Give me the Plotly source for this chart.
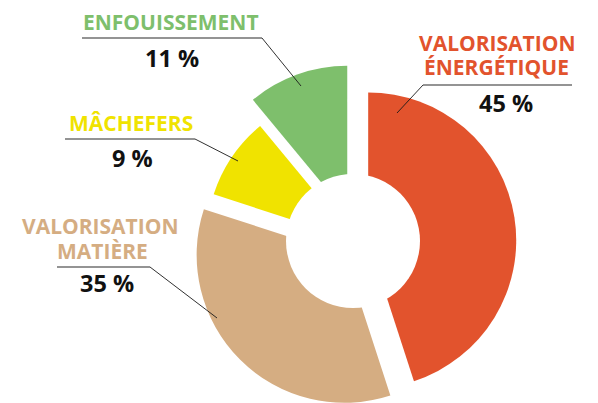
import math
import plotly.graph_objects as go

W, H = 598, 403

# ---------------- data ----------------
categories = ["VALORISATION ÉNERGÉTIQUE", "VALORISATION MATIÈRE", "MÂCHEFERS", "ENFOUISSEMENT"]
label_lines = [["VALORISATION", "ÉNERGÉTIQUE"], ["VALORISATION", "MATIÈRE"], ["MÂCHEFERS"], ["ENFOUISSEMENT"]]
shares = [45, 35, 9, 11]

# ---------------- style ----------------
colors = ["#E2532D", "#D5AD82", "#F0E300", "#7EBF6C"]
pulls = [0.074, 0.122, 0.024, 0.203]          # fraction of radius
CX, CY, R = 357.4, 242.1, 148.0                # pie centre (px from top-left), radius
HOLE_CX, HOLE_CY, HOLE_R = 353, 241, 67
FONT = "Open Sans"
LABEL_SIZE = 21
PCT_SIZE = 23.5

# label placement (px): centres of text lines, pct centre, underline (x0, x1, y), leader (start x, end point)
label_layout = [
    dict(lines=[(497, 43), (496.5, 67)], pct=(505.5, 102.5), rule=(423, 572, 85), lead=(423, 397, 113)),
    dict(lines=[(100, 225.5), (102, 251)], pct=(106.5, 283.5), rule=(57, 150, 267), lead=(150, 217, 318)),
    dict(lines=[(131, 122.5)], pct=(132, 158), rule=(65, 195, 139), lead=(195, 238, 161)),
    dict(lines=[(171, 21.5)], pct=(172.5, 58.5), rule=(82, 262, 38), lead=(262, 301, 86)),
]


def px(x):
    return x / W


def py(y):
    return (H - y) / H


fig = go.Figure()
total = sum(shares)
start = 0.0
for i, v in enumerate(shares):
    span = 360.0 * v / total
    mid = math.radians(start + span / 2)
    ox = CX + pulls[i] * R * math.sin(mid)
    oy = CY - pulls[i] * R * math.cos(mid)
    x0, x1 = (ox - R) / W, (ox + R) / W
    y0, y1 = (H - oy - R) / H, (H - oy + R) / H
    if y0 < 0:
        y1 -= y0
        y0 = 0.0
    if x0 < 0:
        x1 -= x0
        x0 = 0.0
    fig.add_trace(go.Pie(
        values=shares,
        labels=categories,
        sort=False,
        direction="clockwise",
        rotation=0,
        marker=dict(colors=[colors[j] if j == i else "rgba(0,0,0,0)" for j in range(len(shares))],
                    line=dict(width=0)),
        textinfo="none",
        hoverinfo="label+percent",
        showlegend=False,
        domain=dict(x=[x0, x1], y=[y0, y1]),
    ))
    start += span

shapes = [dict(type="circle", xref="paper", yref="paper",
               x0=px(HOLE_CX - HOLE_R), x1=px(HOLE_CX + HOLE_R),
               y0=py(HOLE_CY + HOLE_R), y1=py(HOLE_CY - HOLE_R),
               fillcolor="white", line=dict(width=0), layer="above")]
annotations = []
for i, v in enumerate(shares):
    lay = label_layout[i]
    for text, (tx, ty) in zip(label_lines[i], lay["lines"]):
        annotations.append(dict(text=text, x=px(tx), y=py(ty), xref="paper", yref="paper",
                                xanchor="center", yanchor="middle", showarrow=False, borderpad=0,
                                font=dict(family=FONT, size=LABEL_SIZE, color=colors[i], weight="bold")))
    annotations.append(dict(text=f"{v} %", x=px(lay["pct"][0]), y=py(lay["pct"][1]), xref="paper", yref="paper",
                            xanchor="center", yanchor="middle", showarrow=False, borderpad=0,
                            font=dict(family=FONT, size=PCT_SIZE, color="#111111", weight="bold")))
    rx0, rx1, ry = lay["rule"]
    shapes.append(dict(type="line", xref="paper", yref="paper", x0=px(rx0), x1=px(rx1), y0=py(ry), y1=py(ry),
                       line=dict(color="#707070", width=1.6), layer="above"))
    lx, ex, ey = lay["lead"]
    shapes.append(dict(type="line", xref="paper", yref="paper", x0=px(lx), y0=py(ry), x1=px(ex), y1=py(ey),
                       line=dict(color="#1a1a1a", width=0.9), layer="above"))

fig.update_layout(width=W, height=H, margin=dict(l=0, r=0, t=0, b=0),
                  paper_bgcolor="white", plot_bgcolor="white",
                  shapes=shapes, annotations=annotations)

fig.write_html("out.html")
